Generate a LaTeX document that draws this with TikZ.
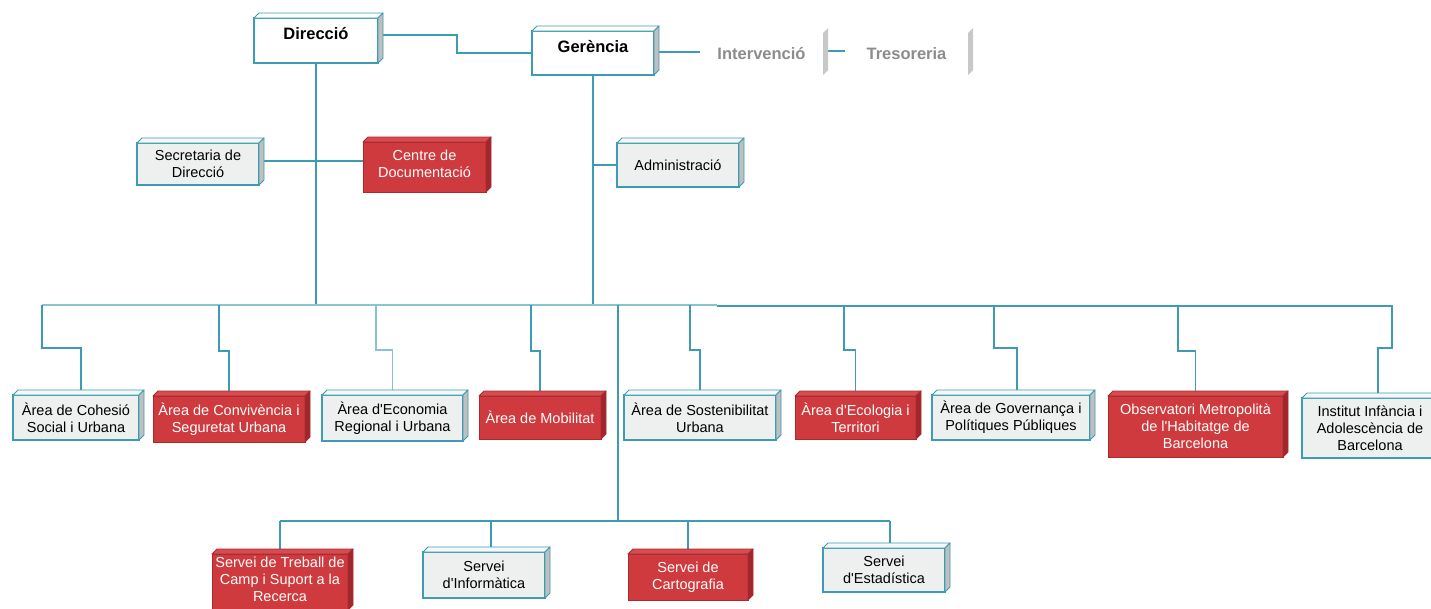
\documentclass[tikz,border=0pt]{standalone}
\usepackage{fontspec}
\setmainfont{Liberation Sans}[Ligatures=TeXOff]
\usetikzlibrary{calc}
\definecolor{tealc}{RGB}{62,156,178}
\definecolor{tealL}{RGB}{135,196,210}
\definecolor{lightf}{RGB}{238,240,240}
\definecolor{lighttop}{RGB}{246,248,248}
\definecolor{sideg}{RGB}{190,192,192}
\definecolor{redf}{RGB}{206,58,62}
\definecolor{redtop}{RGB}{214,76,80}
\definecolor{redside}{RGB}{160,40,45}
\definecolor{redb}{RGB}{170,42,46}
\definecolor{grayt}{RGB}{140,140,140}
\definecolor{barg}{RGB}{200,200,200}
\pgfdeclarelayer{paper}
\pgfdeclarelayer{conns}
\pgfsetlayers{paper,conns,main}
\newcommand\boxfaces[4]{%
  \filldraw[fill=#2,draw=#4,line width=0.9pt,line join=round] (#1.north west) -- ++(5,-5) -- ($(#1.north east)+(5,-5)$) -- (#1.north east) -- cycle;
  \filldraw[fill=#3,draw=#4,line width=0.9pt,line join=round] (#1.north east) -- ++(5,-5) -- ($(#1.south east)+(5,-5)$) -- (#1.south east) -- cycle;}
\tikzset{
  conn/.style={draw=tealc,line width=1.3pt},
  connlight/.style={draw=tealL,line width=1.3pt},
  basebox/.style={rectangle,inner sep=0pt,outer sep=0pt,anchor=north west,align=center,
    font=\fontsize{14.5}{17}\selectfont},
  lbox/.style={basebox,draw=tealc,line width=1.4pt,fill=lightf,text=black},
  wbox/.style={basebox,draw=tealc,line width=1.6pt,fill=white,text=black,font=\fontsize{16.5}{19}\selectfont\bfseries},
  rbox/.style={basebox,draw=redb,line width=0.9pt,fill=redf,text=white},
  ghost/.style={basebox,draw=none,fill=white,text=grayt,font=\fontsize{16.5}{19}\selectfont\bfseries},
}
\begin{document}
\begin{tikzpicture}[x=1pt,y=-1pt]
\useasboundingbox (0,0) rectangle (1431,608);
\begin{pgfonlayer}{paper}
  \fill[white] (0,0) rectangle (1431,608);
\end{pgfonlayer}

% top level
\node[wbox,line width=1.1pt,minimum width=124pt,minimum height=45pt] (dir) at (254,18) {\raisebox{7pt}[\height][\depth]{Direcció}};
\node[wbox,line width=1.8pt,minimum width=122pt,minimum height=44pt] (ger) at (532,31) {\raisebox{6pt}[\height][\depth]{Gerència}};
\node[ghost,minimum width=123pt,minimum height=42pt] (interv) at (700,33) {Intervenció};
\node[ghost,minimum width=123pt,minimum height=42pt] (treso) at (845,33) {Tresoreria};

% second level
\node[lbox,minimum width=122pt,minimum height=42pt] (sec) at (137,143) {Secretaria de\\Direcció};
\node[rbox,minimum width=123pt,minimum height=50pt] (cen) at (363,142) {\raisebox{1pt}[\height][\depth]{\begin{tabular}{@{}c@{}}Centre de\\Documentació\end{tabular}}};
\node[lbox,minimum width=122pt,minimum height=44pt] (adm) at (617,143) {Administració};

% areas
\node[lbox,minimum width=126pt,minimum height=45pt] (coh) at (13,395) {Àrea de Cohesió\\Social i Urbana};
\node[rbox,minimum width=152pt,minimum height=46pt] (conv) at (153,396) {Àrea de Convivència i\\Seguretat Urbana};
\node[lbox,minimum width=141pt,minimum height=46pt] (eco) at (322,395) {Àrea d'Economia\\Regional i Urbana};
\node[rbox,minimum width=122pt,minimum height=43pt] (mob) at (479,396) {Àrea de Mobilitat};
\node[lbox,minimum width=152pt,minimum height=45pt] (sos) at (624,395) {Àrea de Sostenibilitat\\Urbana};
\node[rbox,minimum width=121pt,minimum height=43pt] (ecol) at (795,396) {Àrea d'Ecologia i\\Territori};
\node[lbox,minimum width=158pt,minimum height=45pt] (gov) at (932,395) {Àrea de Governança i\\Polítiques Públiques};
\node[rbox,minimum width=175pt,minimum height=61pt] (obs) at (1108,396) {Observatori Metropolità\\de l'Habitatge de\\Barcelona};
\node[lbox,minimum width=136pt,minimum height=60pt] (inst) at (1302,398) {Institut Infància i\\Adolescència de\\Barcelona};

% services
\node[rbox,minimum width=136pt,minimum height=56pt] (trb) at (212,554) {\raisebox{1pt}[\height][\depth]{\begin{tabular}{@{}c@{}}Servei de Treball de\\Camp i Suport a la\\Recerca\end{tabular}}};
\node[lbox,minimum width=122pt,minimum height=46pt] (inf) at (423,552) {Servei\\d'Informàtica};
\node[rbox,minimum width=120pt,minimum height=46pt] (car) at (628,554) {Servei de\\Cartografia};
\node[lbox,minimum width=122pt,minimum height=44pt] (est) at (823,548) {Servei\\d'Estadística};

% 3D faces
\boxfaces{dir}{white}{sideg}{tealc}
\boxfaces{ger}{white}{sideg}{tealc}
\foreach \n in {sec,adm,coh,eco,sos,gov,inst,inf,est}{\boxfaces{\n}{lighttop}{sideg}{tealc}}
\foreach \n in {cen,conv,mob,ecol,obs,trb,car}{\boxfaces{\n}{redtop}{redside}{redb}}
\fill[barg] (interv.north east) -- ++(5,-5) -- ($(interv.south east)+(5,-5)$) -- (interv.south east) -- cycle;
\fill[barg] (treso.north east) -- ++(5,-5) -- ($(treso.south east)+(5,-5)$) -- (treso.south east) -- cycle;

% bus coordinates
\coordinate (busL) at (42,305);
\coordinate (busR) at (1392,305);
\coordinate (b2) at (219,305);
\coordinate (b3) at (376,305);
\coordinate (b4) at (531,305);
\coordinate (b5) at (690,305);
\coordinate (b6) at (844,305);
\coordinate (b7) at (994,305);
\coordinate (b8) at (1178,305);
\coordinate (t0) at (618,305);
\coordinate (sbL) at (280,521);
\coordinate (sbR) at (890,521);
\coordinate (sbT) at (618,521);

\begin{pgfonlayer}{conns}
  \draw[conn] ($(dir.north east)+(0,17)$) -- ++(79,0) |- (ger.west);
  \draw[conn] ($(ger.east)+(5,-1)$) -- ($(ger.east -| interv.west)+(0,-1)$);
  \draw[conn] ($(interv.east)+(5,-3)$) -- ($(treso.west)+(0,-3)$);
  \draw[conn] (dir.south) -- (dir.south |- busL);
  \draw[conn] ($(sec.east)+(0,-3)$) -- ($(sec.east -| cen.west)+(0,-3)$);
  \draw[conn] (ger.south) -- (ger.south |- busL);
  \draw[conn] (ger.south |- adm.west) -- (adm.west);
  \draw[connlight] (busL) -- (717,305);
  \draw[conn] (717,306) -- (busR |- 0,306);
  \draw[conn] (busL) -- ++(0,43) -| ([xshift=5pt]coh.north);
  \draw[conn] (b2) -- ++(0,46) -| (conv.north);
  \draw[connlight] (b3) -- ++(0,45) -| (eco.north);
  \draw[conn] (b4) -- ++(0,46) -| (mob.north);
  \draw[conn] (b5) -- ++(0,45) -| (sos.north);
  \draw[conn] (b6) -- ++(0,45) -| (ecol.north);
  \draw[conn] (b7) -- ++(0,43) -| ([xshift=6pt]gov.north);
  \draw[conn] (b8) -- ++(0,46) -| (obs.north);
  \draw[conn] (busR) -- ++(0,43) -| ([xshift=8pt]inst.north);
  \draw[conn] (t0) -- (sbT);
  \draw[conn] (sbL) -- (sbR);
  \draw[conn] (sbL) -- (trb.north);
  \draw[conn] ([xshift=7pt]inf.north |- sbL) -- ([xshift=7pt]inf.north);
  \draw[conn] (car.north |- sbL) -- (car.north);
  \draw[conn] (sbR) -- (sbR |- est.north);
\end{pgfonlayer}
\end{tikzpicture}
\end{document}
